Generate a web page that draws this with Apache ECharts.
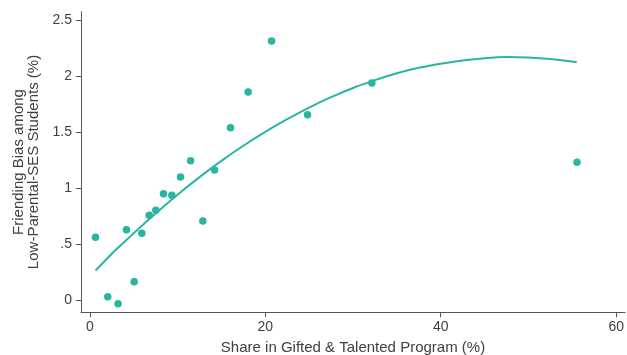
<!DOCTYPE html>
<html>
<head>
<meta charset="utf-8">
<script src="https://cdn.jsdelivr.net/npm/echarts@6/dist/echarts.min.js"></script>
<style>
html,body{margin:0;padding:0;background:#fff;}
#chart{width:627px;height:355px;}
</style>
</head>
<body>
<div id="chart"></div>
<script>
// Scatter points: share in G&T program (%) and friending bias (%)
const shareGT = [0.65, 2.05, 3.23, 4.18, 5.06, 5.93, 6.77, 7.53, 8.40, 9.35, 10.34, 11.49, 12.88, 14.22, 16.04, 18.05, 20.72, 24.82, 32.15, 55.53];
const friendingBias = [0.561, 0.032, -0.030, 0.629, 0.166, 0.597, 0.757, 0.802, 0.950, 0.936, 1.099, 1.244, 0.707, 1.161, 1.538, 1.857, 2.311, 1.654, 1.937, 1.230];

// Fitted curve
const fitX = [0.65, 3, 5, 7.5, 10, 12.5, 15, 17.5, 20, 22.5, 25, 27.5, 30, 32.5, 35, 37.5, 40, 42.5, 45, 47.5, 50, 52.5, 55.5];
const fitY = [0.264, 0.452, 0.597, 0.773, 0.941, 1.098, 1.243, 1.377, 1.501, 1.614, 1.718, 1.810, 1.892, 1.962, 2.024, 2.072, 2.108, 2.137, 2.158, 2.168, 2.164, 2.150, 2.122];

// Tick labels
const xTickValues = [0, 20, 40, 60];
const xTickLabels = ["0", "20", "40", "60"];
const yTickValues = [0, 0.5, 1, 1.5, 2, 2.5];
const yTickLabels = ["0", ".5", "1", "1.5", "2", "2.5"];

const teal = '#2ab5a0';
const textColor = '#404040';
const axisColor = '#555555';
const fontFamily = '"Liberation Sans", Arial, Helvetica, sans-serif';

const chart = echarts.init(document.getElementById('chart'), null, {renderer: 'canvas'});

const scatterData = shareGT.map((x, i) => [x, friendingBias[i]]);
const fitData = fitX.map((x, i) => [x, fitY[i]]);

chart.setOption({
  animation: false,
  backgroundColor: '#ffffff',
  grid: {left: 81, right: 2, top: 11.7, bottom: 42.7, containLabel: false, outerBoundsMode: 'none'},
  xAxis: {
    type: 'value',
    min: -1,
    max: 61,
    name: 'Share in Gifted & Talented Program (%)',
    nameLocation: 'middle',
    nameGap: 28,
    nameTextStyle: {color: textColor, fontSize: 15, fontFamily: fontFamily},
    splitLine: {show: false},
    axisLine: {show: true, onZero: false, lineStyle: {color: axisColor, width: 1}},
    axisTick: {show: true, length: 5, inside: false, customValues: xTickValues, lineStyle: {color: axisColor}},
    axisLabel: {
      customValues: xTickValues,
      color: textColor, fontSize: 14, fontFamily: fontFamily, margin: 8,
      formatter: v => xTickLabels[xTickValues.indexOf(v)] ?? ''
    }
  },
  yAxis: {
    type: 'value',
    min: -0.107,
    max: 2.572,
    name: 'Friending Bias among\nLow-Parental-SES Students (%)',
    nameLocation: 'middle',
    nameGap: 40,
    nameRotate: 90,
    nameTextStyle: {color: textColor, fontSize: 15, fontFamily: fontFamily, lineHeight: 15, align: 'center'},
    splitLine: {show: false},
    axisLine: {show: true, onZero: false, lineStyle: {color: axisColor, width: 1}},
    axisTick: {show: true, length: 5, inside: false, customValues: yTickValues, lineStyle: {color: axisColor}},
    axisLabel: {
      customValues: yTickValues,
      color: textColor, fontSize: 14, fontFamily: fontFamily, margin: 9,
      formatter: v => yTickLabels[yTickValues.indexOf(v)] ?? ''
    }
  },
  series: [
    {
      type: 'line',
      data: fitData,
      smooth: 0.3,
      showSymbol: false,
      lineStyle: {color: teal, width: 2},
      z: 2
    },
    {
      type: 'scatter',
      data: scatterData,
      symbol: 'circle',
      symbolSize: 7.5,
      itemStyle: {color: teal, opacity: 1},
      z: 3
    }
  ]
});
</script>
</body>
</html>
